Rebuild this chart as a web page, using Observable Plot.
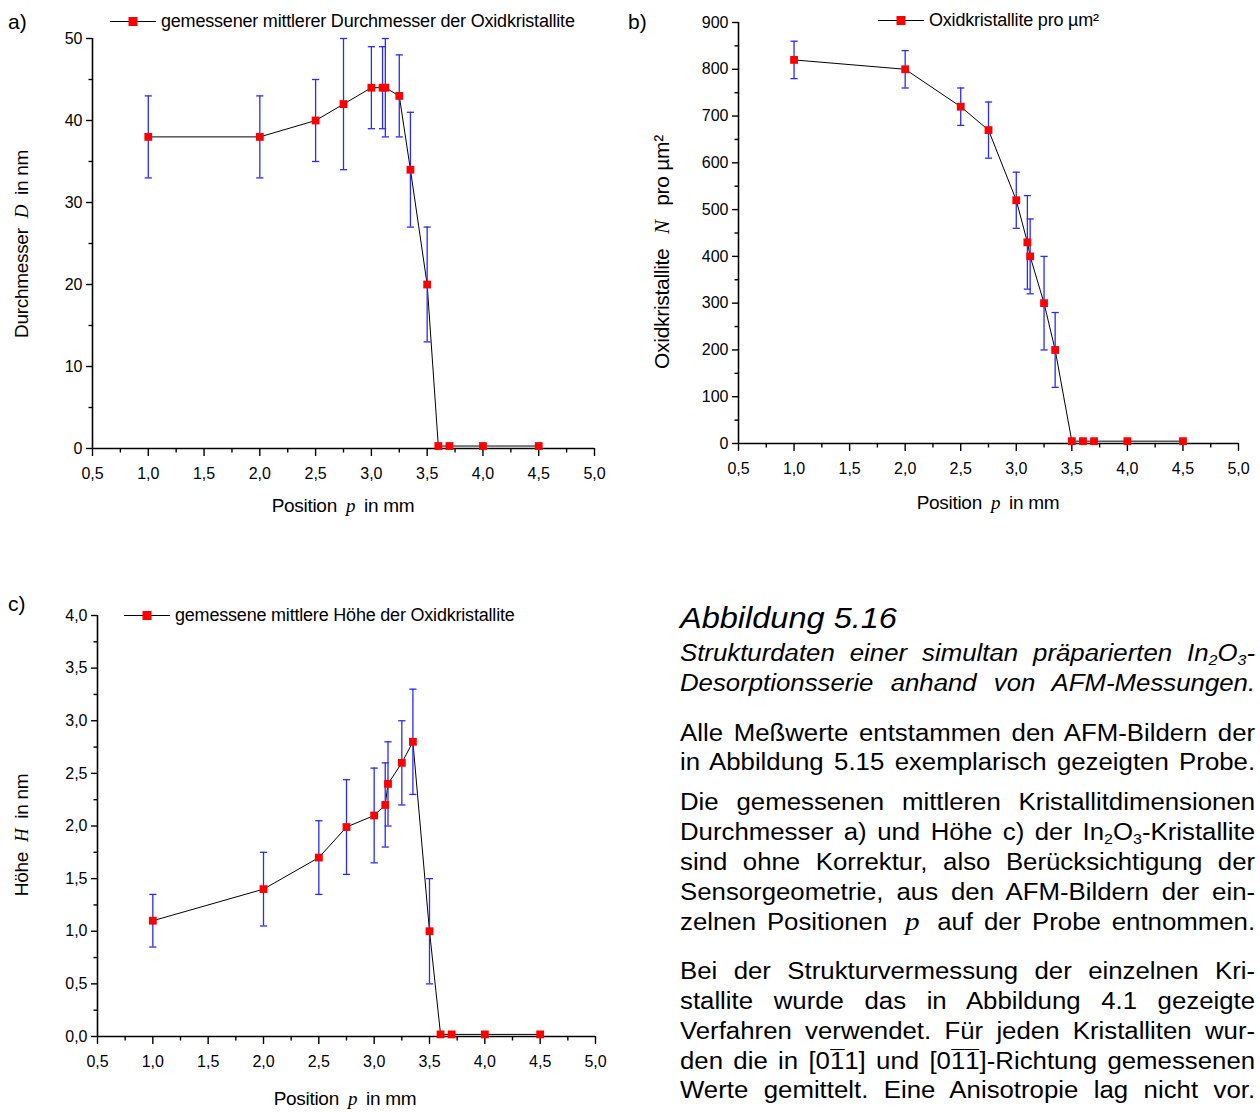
<!DOCTYPE html>
<html><head><meta charset="utf-8">
<script src="https://cdn.jsdelivr.net/npm/d3@7"></script>
<script src="https://cdn.jsdelivr.net/npm/@observablehq/plot@0.6"></script>
<style>
html,body{margin:0;padding:0;background:#fff;}
#page{position:relative;width:1260px;height:1113px;overflow:hidden;font-family:"Liberation Sans",Arial,sans-serif;color:#000;}
.panel{position:absolute;}
.serif{font-family:"Liberation Serif","Times New Roman",serif;font-style:italic;}
.ylab{position:absolute;transform:translate(-50%,-50%) rotate(-90deg);white-space:nowrap;font-size:19px;letter-spacing:-0.3px;}
.xlab{position:absolute;transform:translate(-50%,-50%);white-space:nowrap;font-size:19px;letter-spacing:-0.3px;}
.plab{position:absolute;transform:translateY(-50%);font-size:21px;}
.legend{position:absolute;display:flex;align-items:center;font-size:18px;white-space:nowrap;transform:translateY(-50%);letter-spacing:-0.2px;}
#textblock{position:absolute;left:680px;top:0;width:513px;height:1113px;transform-origin:0 0;transform:scaleX(1.121);}
.tl{position:absolute;left:0;width:513px;text-align:justify;text-align-last:justify;font-size:23px;line-height:30px;height:30px;}
.cap{font-style:italic;font-size:23px;}
.sub{font-size:0.62em;position:relative;top:0.3em;}
.ob{display:inline-block;line-height:1;border-top:1.4px solid #000;padding-top:0px;}
</style>
</head><body>
<div id="page"></div>
<script>
// ---------------- data ----------------
const positions   = [1.0, 2.0, 2.5, 2.75, 3.0, 3.1, 3.125, 3.25, 3.35, 3.5, 3.6, 3.7, 4.0, 4.5];
const diameter    = [38, 38, 40, 42, 44, 44, 44, 43, 34, 20, 0.3, 0.3, 0.3, 0.3];
const diameterErr = [5, 5, 5, 8, 5, 5, 6, 5, 7, 7, 0, 0, 0, 0];
const density     = [820, 800, 720, 670, 520, 430, 400, 300, 200, 5, 5, 5, 5, 5];
const densityErr  = [40, 40, 40, 60, 60, 100, 80, 100, 80, 5, 5, 0, 0, 0];
const heightH     = [1.1, 1.4, 1.7, 1.99, 2.1, 2.2, 2.4, 2.6, 2.8, 1.0, 0.02, 0.02, 0.02, 0.02];
const heightErr   = [0.25, 0.35, 0.35, 0.45, 0.45, 0.4, 0.4, 0.4, 0.5, 0.5, 0, 0, 0, 0];

const xTicks      = [0.5, 1.0, 1.5, 2.0, 2.5, 3.0, 3.5, 4.0, 4.5, 5.0];
const xMinorTicks = [0.75, 1.25, 1.75, 2.25, 2.75, 3.25, 3.75, 4.25, 4.75];
const aTicks      = [0, 10, 20, 30, 40, 50];
const aMinorTicks = [5, 15, 25, 35, 45];
const bTicks      = [0, 100, 200, 300, 400, 500, 600, 700, 800, 900];
const bMinorTicks = [50, 150, 250, 350, 450, 550, 650, 750, 850];
const cTicks      = [0, 0.5, 1.0, 1.5, 2.0, 2.5, 3.0, 3.5, 4.0];
const cMinorTicks = [0.25, 0.75, 1.25, 1.75, 2.25, 2.75, 3.25, 3.75];

const legendA = "gemessener mittlerer Durchmesser der Oxidkristallite";
const legendB = "Oxidkristallite pro µm²";
const legendC = "gemessene mittlere Höhe der Oxidkristallite";

// ---------------- helpers ----------------
const comma1 = d => d.toFixed(1).replace(".", ",");
const intFmt = d => String(d);
const BLUE = "#2a2aff";
const capSymbol = {draw(ctx) { ctx.moveTo(-3.6, 0); ctx.lineTo(3.6, 0); }};

function rows(vals, errs) {
  return positions.map((p, i) => ({p, v: vals[i], e: errs[i]}));
}

function panel({data, yDomain, yTicks, yMinor, yFmt, width, height, ml, mr, mt, mb}) {
  const withErr = data.filter(d => d.e > 0);
  return Plot.plot({
    width, height,
    marginLeft: ml, marginRight: mr, marginTop: mt, marginBottom: mb,
    x: {domain: [0.5, 5.0]},
    y: {domain: yDomain},
    style: {fontFamily: "'Liberation Sans', Arial, sans-serif", fontSize: "16px", color: "#000", background: "transparent", overflow: "visible"},
    marks: [
      Plot.axisX({ticks: xTicks, tickSize: 8, tickPadding: 11, tickFormat: comma1, label: null, strokeWidth: 1.4, fontSize: 16}),
      Plot.axisX({ticks: xMinorTicks, tickSize: 4.5, tickFormat: () => "", label: null, strokeWidth: 1.4}),
      Plot.axisY({ticks: yTicks, tickSize: 6, tickPadding: 4, tickFormat: yFmt, label: null, strokeWidth: 1.4, fontSize: 16}),
      Plot.axisY({ticks: yMinor, tickSize: 3.5, tickFormat: () => "", label: null, strokeWidth: 1.4}),
      Plot.ruleY([yDomain[0]], {stroke: "#000", strokeWidth: 1.6}),
      Plot.ruleX([0.5], {stroke: "#000", strokeWidth: 1.6}),
      Plot.line(data, {x: "p", y: "v", stroke: "#000", strokeWidth: 1}),
      Plot.ruleX(withErr, {x: "p", y1: d => d.v - d.e, y2: d => d.v + d.e, stroke: BLUE, strokeWidth: 1.3}),
      Plot.dot(withErr, {x: "p", y: d => d.v + d.e, symbol: capSymbol, fill: "none", stroke: BLUE, strokeWidth: 1.3}),
      Plot.dot(withErr, {x: "p", y: d => d.v - d.e, symbol: capSymbol, fill: "none", stroke: BLUE, strokeWidth: 1.3}),
      Plot.dot(data, {x: "p", y: "v", symbol: "square", r: 4.4, fill: "#ff0000", stroke: "none"})
    ]
  });
}

const page = document.getElementById("page");
function place(node, left, top) {
  const wrap = document.createElement("div");
  wrap.className = "panel";
  wrap.style.left = left + "px";
  wrap.style.top = top + "px";
  wrap.appendChild(node);
  page.appendChild(wrap);
}

place(panel({data: rows(diameter, diameterErr), yDomain: [0, 50], yTicks: aTicks, yMinor: aMinorTicks, yFmt: intFmt,
  width: 640, height: 500, ml: 92, mr: 46, mt: 38, mb: 52}), 0, 0);
place(panel({data: rows(density, densityErr), yDomain: [0, 900], yTicks: bTicks, yMinor: bMinorTicks, yFmt: intFmt,
  width: 620, height: 500, ml: 98, mr: 22, mt: 22, mb: 57}), 640, 0);
place(panel({data: rows(heightH, heightErr), yDomain: [0, 4], yTicks: cTicks, yMinor: cMinorTicks, yFmt: comma1,
  width: 640, height: 540, ml: 97, mr: 45, mt: 55, mb: 64}), 0, 560);

function html(s, target = page) { target.insertAdjacentHTML("beforeend", s); }
function legend(left, top, text) {
  html(`<div class="legend" style="left:${left}px;top:${top}px"><svg width="46" height="12" style="display:block"><line x1="0" x2="46" y1="6" y2="6" stroke="#000" stroke-width="1"/><rect x="18.5" y="1.5" width="9" height="9" fill="#ff0000"/></svg><span style="margin-left:5px">${text}</span></div>`);
}
legend(110, 21, legendA);
legend(878, 20, legendB);
legend(124, 615, legendC);

html(`<div class="plab" style="left:8px;top:22px">a)</div>`);
html(`<div class="plab" style="left:628px;top:22px">b)</div>`);
html(`<div class="plab" style="left:8px;top:604px">c)</div>`);

html(`<div class="ylab" style="left:22px;top:244px">Durchmesser <span class="serif" style="margin:0 5px">D</span> in nm</div>`);
html(`<div class="ylab" style="left:662px;top:252px;font-size:21px">Oxidkristallite <span class="serif" style="margin:0 9px">N</span> pro µm²</div>`);
html(`<div class="ylab" style="left:22px;top:835px">Höhe <span class="serif" style="margin:0 5px">H</span> in nm</div>`);

const posLabel = `Position <span class="serif" style="margin:0 4px">p</span> in mm`;
html(`<div class="xlab" style="left:343px;top:506px">${posLabel}</div>`);
html(`<div class="xlab" style="left:988px;top:503px">${posLabel}</div>`);
html(`<div class="xlab" style="left:345px;top:1099px">${posLabel}</div>`);

// ---------------- text block ----------------
html(`<div id="textblock"></div>`);
const tb = document.getElementById("textblock");
const In2O3 = `In<span class="sub">2</span>O<span class="sub">3</span>`;
const bar1 = `<span class="ob">1</span>`;
html(`<div style="position:absolute;left:0;top:600px;font-size:29px;font-style:italic;line-height:36px;white-space:nowrap">Abbildung 5.16</div>`, tb);
const textLines = [
  [638, "cap", `Strukturdaten einer simultan präparierten ${In2O3}-`],
  [668, "cap", `Desorptionsserie anhand von AFM-Messungen.`],
  [718, "", `Alle Meßwerte entstammen den AFM-Bildern der`],
  [747, "", `in Abbildung 5.15 exemplarisch gezeigten Probe.`],
  [787, "", `Die gemessenen mittleren Kristallitdimensionen`],
  [817, "", `Durchmesser a) und Höhe c) der ${In2O3}-Kristallite`],
  [847, "", `sind ohne Korrektur, also Berücksichtigung der`],
  [877, "", `Sensorgeometrie, aus den AFM-Bildern der ein-`],
  [907, "", `zelnen Positionen <span class="serif" style="font-size:26px;margin:0 6px">p</span> auf der Probe entnommen.`],
  [956, "", `Bei der Strukturvermessung der einzelnen Kri-`],
  [986, "", `stallite wurde das in Abbildung 4.1 gezeigte`],
  [1016, "", `Verfahren verwendet. Für jeden Kristalliten wur-`],
  [1046, "", `den die in [0${bar1}1] und [0${bar1}${bar1}]-Richtung gemessenen`],
  [1075, "", `Werte gemittelt. Eine Anisotropie lag nicht vor.`]
];
for (const [top, cls, txt] of textLines) {
  html(`<div class="tl ${cls}" style="top:${top}px">${txt}</div>`, tb);
}
</script>
</body></html>
